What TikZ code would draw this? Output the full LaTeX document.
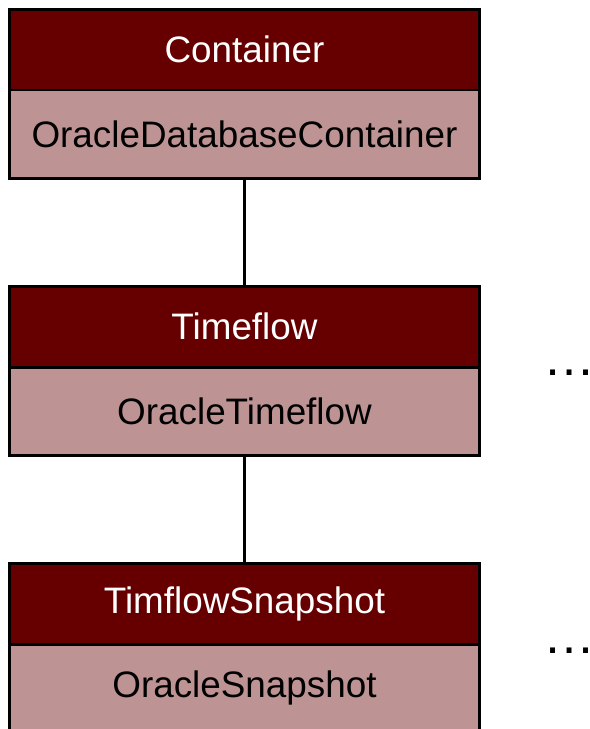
\documentclass[tikz,border=0pt]{standalone}
\usepackage{fontspec}
\setsansfont{Liberation Sans}
\usepackage{xcolor}
\definecolor{hdrred}{RGB}{102, 0, 0}
\definecolor{bodyrose}{RGB}{190, 147, 147}
\usetikzlibrary{positioning}

\begin{document}
\begin{tikzpicture}[x=0.025cm, y=0.025cm]

% === Parámetros ===
\def\W{11.76cm}      % Ancho de las cajas
\def\gap{2.705cm}    % Separación vertical entre cajas

\tikzset{
    headbox/.style={rectangle, draw=black, line width=1.9pt, fill=hdrred,
        text=white, minimum width=\W, minimum height=2.02cm,
        inner sep=0pt, outer sep=0pt, font=\sffamily\fontsize{26.2}{30}\selectfont},
    bodybox/.style={rectangle, draw=black, line width=1.9pt, fill=bodyrose,
        text=black, minimum width=\W, minimum height=2.2cm,
        inner sep=0pt, outer sep=0pt, font=\sffamily\fontsize{26.2}{30}\selectfont},
    moredots/.style={inner sep=0pt, anchor=base,
        font=\sffamily\fontsize{37}{40}\selectfont},
    link/.style={line width=1.9pt, black}
}

% === Marco (recorte) ===
\clip (0,0) rectangle (590,-729);

% === Cajas ===
\node[headbox] (container) at (244.5,-49.75) {Container};
\node[bodybox, below=0pt of container] (oracledb) {OracleDatabaseContainer};

\node[headbox, below=\gap of oracledb] (timeflow) {Timeflow};
\node[bodybox, below=0pt of timeflow] (oracletf) {OracleTimeflow};

\node[headbox, below=\gap of oracletf] (tfsnap) {TimflowSnapshot};
\node[bodybox, below=0pt of tfsnap] (oraclesnap) {OracleSnapshot};

% === Conectores ===
\draw[link] (oracledb.south) -- (timeflow.north);
\draw[link] (oracletf.south) -- (tfsnap.north);

% === Puntos suspensivos ===
\node[moredots] (tfmore) at (570,-375) {…};
\node[moredots] (snapmore) at (570,-653) {…};

\end{tikzpicture}
\end{document}
